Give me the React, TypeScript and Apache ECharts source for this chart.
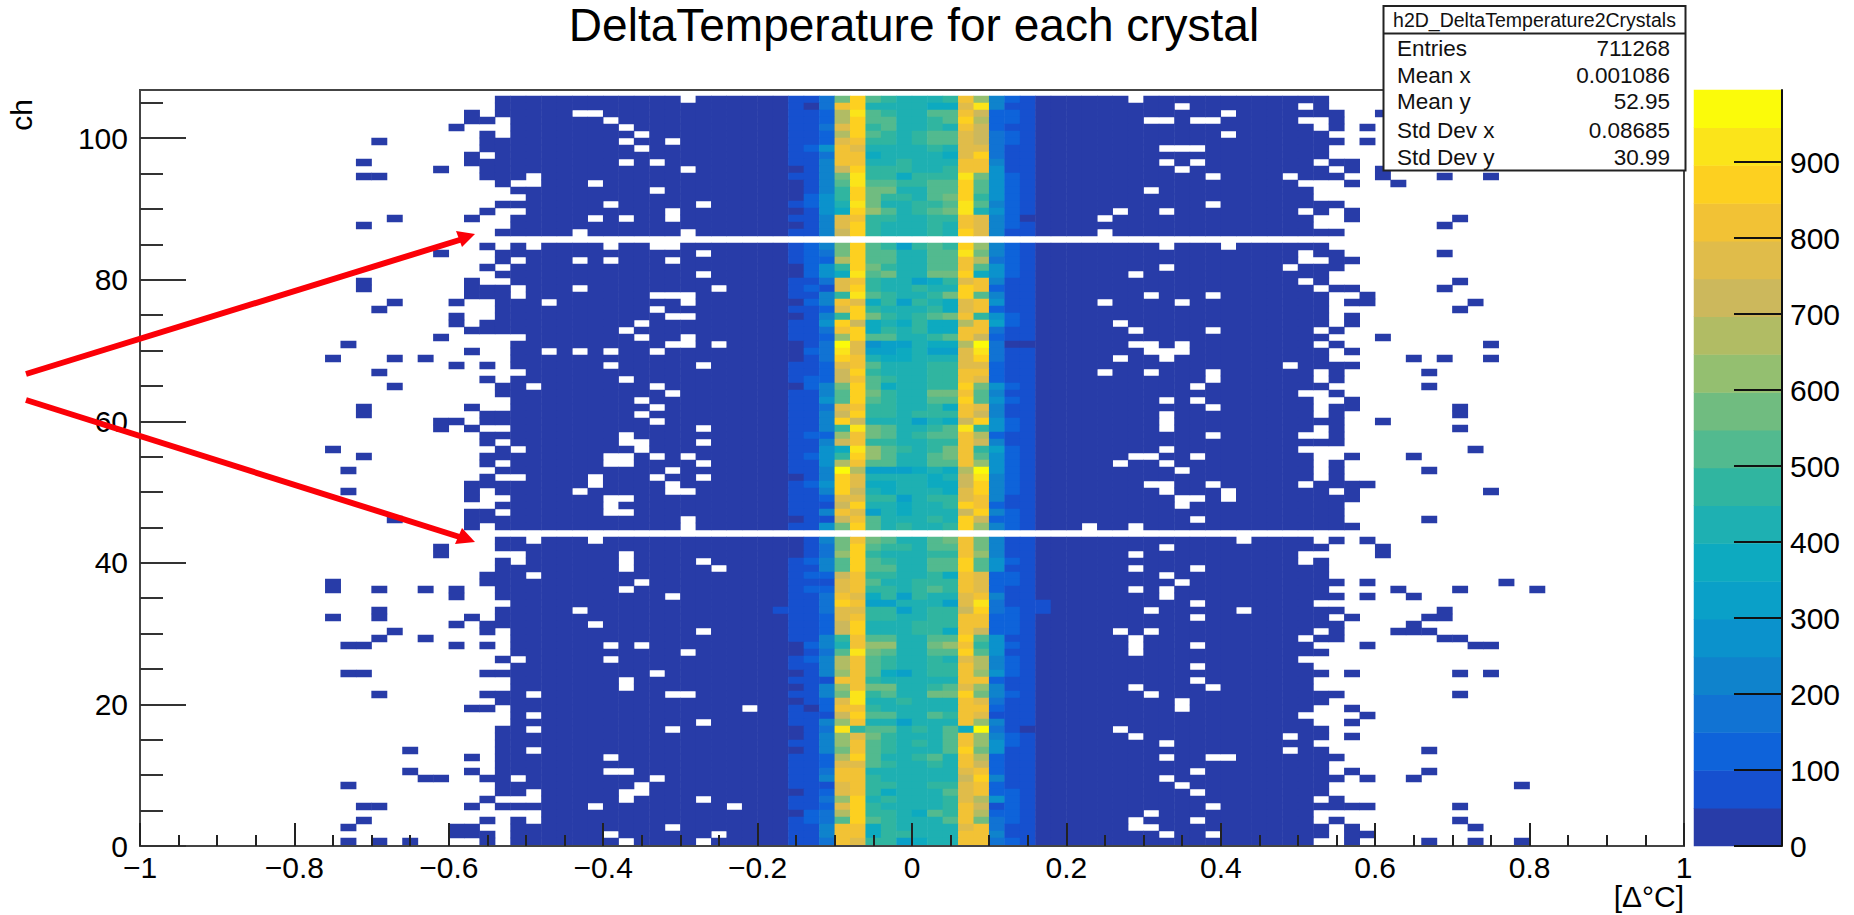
import React, { useEffect, useRef } from "react";
import * as echarts from "echarts";

const FONT = "Liberation Sans";
const LEVEL_WIDTH = 49.75;
const BIN_COUNT = 100;
const ROW_COUNT = 108;
const TOP_CHANNEL = 106;

// Colour of each of the 20 contour levels, bottom to top
const palette = [
  "#283ca8", "#1650cf", "#0e63da", "#1173d3", "#0f83cc", "#0b92cc", "#0aa0c8", "#0daac0", "#1eb0b2", "#30b5a0",
  "#52ba8f", "#70bc80", "#94bf70", "#b1bc64", "#ccb85c", "#e0bc4a", "#f2c235", "#fdd020", "#fbe41a", "#fbfb0a",
];

const xMajorTicks = [-1, -0.8, -0.6, -0.4, -0.2, 0, 0.2, 0.4, 0.6, 0.8, 1];
const yMajorTicks = [0, 20, 40, 60, 80, 100];
const zMajorTicks = [0, 100, 200, 300, 400, 500, 600, 700, 800, 900];

// All arrays below run from the top row (channel 106) to the bottom row (channel 0). Bins: 0 = [-1,-0.98)
const bodyStart = [
  23, 23, 23, 24, 24, 24, 22, 22, 23, 21, 22, 22, 23, 24, 25, 23, 25, 24, 24, 23, -1,
  24, 23, 23, 24, 23, 24, 21, 21, 23, 23, 23, 22, 21, 25, 24, 24, 24, 24, 25, 24, 23,
  23, 24, 24, 22, 22, 24, 22, 24, 25, 22, 24, 23, 25, 21, 23, 24, 23, 24, 21, 23, -1,
  23, 23, 25, 23, 23, 22, 22, 23, 23, 24, 23, 23, 22, 24, 24, 24, 24, 23, 24, 22, 24,
  24, 22, 23, 24, 24, 24, 23, 23, 23, 23, 23, 23, 23, 22, 23, 23, 26, 23, 26, 26, 24, 24, 24,
];
const bodyEnd = [
  76, 76, 77, 77, 77, 76, 77, 76, 76, 78, 76, 77, 74, 75, 75, 77, 76, 75, 75, 77, -1,
  76, 77, 78, 77, 76, 76, 78, 76, 76, 76, 76, 76, 77, 76, 77, 76, 76, 78, 77, 77, 76,
  77, 78, 78, 77, 77, 77, 77, 77, 74, 75, 75, 75, 75, 79, 78, 78, 77, 77, 77, 78, -1,
  75, 76, 74, 76, 76, 76, 77, 76, 77, 75, 77, 76, 77, 77, 77, 75, 76, 74, 75, 76, 75,
  75, 77, 76, 75, 74, 75, 76, 76, 75, 76, 77, 76, 76, 77, 76, 76, 77, 79, 75, 75, 76, 76, 75,
];
// row from top -> empty bins inside the body
const holes: Record<number, number[]> = {
  0: [35, 64], 1: [67, 75], 2: [28, 29, 70], 3: [30, 65, 66, 68, 69, 75, 76], 4: [31, 76], 5: [32, 70], 6: [31, 34],
  7: [32, 66, 67, 68], 9: [31, 33, 66, 68, 76], 10: [35, 67], 11: [25, 69, 74], 12: [24, 25, 29], 13: [33, 65],
  15: [30, 36, 69], 16: [34, 63, 66, 75], 17: [29, 31, 34, 62], 19: [28, 35, 62], 21: [25, 30, 33, 34, 66, 70],
  22: [36, 75], 23: [24, 28, 30, 34, 75, 76], 24: [66, 74], 25: [36, 64], 26: [75], 27: [24, 28, 37, 76],
  28: [24, 33, 34, 35, 65, 69], 29: [26, 35, 62, 67], 30: [33], 31: [34, 35], 32: [32, 63], 33: [31, 64, 69, 76],
  34: [32, 35], 35: [34, 35, 37, 64, 65, 67, 76], 36: [26, 28, 30, 33, 65, 66, 67], 37: [63, 66], 38: [30, 36, 74],
  39: [62, 65, 69, 76], 40: [31, 69, 76], 41: [25, 33, 68], 42: [34, 75, 76], 43: [32, 66, 68, 76, 77], 44: [33, 69, 76],
  45: [32, 66, 76], 46: [33, 66], 47: [36, 66, 76], 48: [31, 69, 75, 76], 49: [31, 32, 36], 50: [24, 32, 66],
  51: [30, 31, 33, 35, 64, 65, 68], 52: [30, 31, 36, 63, 66], 53: [34, 67], 54: [29, 33, 36],
  55: [29, 34, 65, 66, 69, 75], 56: [28, 34, 35, 66, 70, 77], 57: [30, 31, 67, 68, 70], 58: [30, 67], 59: [30, 31],
  60: [35, 68], 61: [35, 61, 64], 63: [25, 29, 71], 64: [66], 65: [31, 64], 66: [24, 31, 36, 75], 67: [31, 37, 64, 68],
  68: [25, 66], 69: [32, 67], 70: [31, 64, 66], 71: [34, 66], 72: [68], 73: [28, 65, 71], 74: [68], 75: [29],
  76: [36, 63, 65, 76], 77: [64, 75], 78: [30, 32, 64, 68], 79: [35, 64], 80: [24, 30], 81: [68], 82: [33], 83: [31, 68],
  84: [31, 64, 69], 85: [25, 34, 35, 65], 86: [67], 87: [39, 67], 88: [25], 89: [36], 90: [25, 34, 63], 91: [64, 74],
  92: [66], 93: [25, 74], 94: [30, 66, 69, 70], 96: [30, 31, 68], 97: [24, 33, 66], 98: [32, 67], 99: [25, 31, 32, 68],
  100: [31, 36, 76], 101: [29, 38, 69], 102: [65], 103: [25, 64, 68], 104: [34, 64, 65], 105: [30, 37, 66, 69], 106: [31, 36],
};
// row from top -> isolated filled bins outside the body
const extras: Record<number, number[]> = {
  2: [21, 80], 3: [21, 22], 4: [20, 79], 5: [22], 6: [15, 79], 8: [21], 9: [14], 10: [19, 78, 80], 11: [14, 15, 80, 84, 87],
  12: [78, 81], 16: [22, 78], 17: [16, 21, 78, 85], 18: [14, 84], 21: [22], 22: [19, 84], 24: [22], 26: [14, 21, 85],
  27: [14, 84], 28: [79], 29: [16, 20, 78, 79, 86], 30: [15, 85], 31: [20, 78], 32: [20, 78], 34: [19, 80], 35: [13, 87],
  36: [21, 78], 37: [12, 16, 18, 82, 84, 87], 38: [20, 22], 39: [15, 83], 40: [22], 41: [16, 83], 44: [14, 21, 85], 45: [14, 85],
  46: [19, 20, 80], 47: [19, 21, 85], 49: [22], 50: [12, 23, 86], 51: [14, 78, 82], 52: [22, 77], 53: [13, 77, 83], 54: [22, 77],
  56: [13, 21, 87], 57: [21], 59: [21, 22], 60: [16, 83], 61: [21], 63: [77, 79], 64: [19, 80], 65: [19, 80],
  69: [12, 79, 88], 70: [12, 15, 18, 20, 81, 85, 90], 71: [20, 79, 82], 73: [15, 84], 74: [12, 15, 21, 78, 83, 84], 75: [20, 82],
  76: [16, 22, 81, 82, 83], 77: [15, 18, 84, 85], 78: [13, 14, 20, 22, 79, 86, 87], 82: [13, 14, 78, 85, 87], 85: [15, 85],
  87: [21, 22, 78], 88: [79], 89: [78], 91: [78], 93: [17, 83], 94: [21], 96: [17, 21, 78, 83], 97: [18, 19, 79, 82],
  98: [13, 89], 100: [22], 101: [14, 15, 21, 85], 103: [14, 22, 24, 77, 85], 104: [13, 20, 21, 78, 86],
  105: [20, 21, 22, 78, 79], 106: [13, 15, 17, 22, 78, 83, 86, 89],
};
// bins 42 to 57 of each row, as contour level characters (base 20)
const coreLevels = [
  "113bha98889gc421", "103gh888877fi411", "112dia988aage221", "112dhaa889ahd221", "113fh9a8898ge211", "112dha989aafe321",
  "112fg9989aafe321", "125gf888898ff311", "113gg788887fh311", "114gg889888gg411", "014eh999889gg511", "114bi997999ib521",
  "014aiaa99aaha521", "0149hbb88aaha521", "0259hb998abh9521", "1258ib8899aia421", "0157hca89abi8521", "114fg998899gf420",
  "014fh988898gf421", "114eh988898hf411", "", "124bha969a9hc421", "123bhaa88aaib421", "122dhaa88aagd321",
  "0259hb988aaga521", "0257iab88bbh7521", "113fg988679fg411", "121fh988988hg211", "1149ia9889bha411", "024gf796987fg511",
  "112fh988897fg211", "0149hb989abg9521", "115he787977dg621", "113gh798977gg311", "112chaa889age211", "013jf566877dj300",
  "023if667866fi311", "013hg877888fh311", "112fga88899ff211", "112eh988899gg211", "122ega98899gf211", "024bha78899hb521",
  "114ahb988bbga411", "115aha988aaha521", "113fg998897gf411", "114eh998999ge411", "114he888687eh521", "1149iba889ai9521",
  "122cgba89aagd211", "114eg998899ge411", "1157ica989bg9621", "1259hca88abga521", "115dgaa88aagc521", "114jd666787dj521",
  "014hf888878ei421", "125hf778877eh421", "114he878887fh421", "112ff996899fg411", "111eh887889hg211", "114gf687888eh421",
  "011ega88898he221", "115bha89889hc421", "", "014bgba88abgb411", "013bha998aagb411", "013ch988899gc411",
  "124aha988aaha521", "114ahaa88aaha511", "122eg998897gf221", "111fga88999gf221", "122fg9989a9gf211", "113gf796988fg411",
  "113hg668886fi311", "113ff996899eh321", "112fg998899gg221", "112eh888999gg221", "112eh888997ge221", "1149gaa88aaha511",
  "0248gcc88bcg9521", "013aiba88aaha511", "124dga98898fd421", "114dga98899gd421", "014cga76899gc521", "111gg988888gg211",
  "014cgbb889afc411", "114bi9a88bbhb421", "012fi889888gf311", "102gg988888gg211", "111ehaa88a9gf111", "114cg886888gc411",
  "013i9aa898a7j310", "014cfb9888agc421", "114cga9898agc521", "014bga9888ahb511", "112dha889a8gd211", "112ffa98898ge211",
  "113gg888888fg211", "114gg988888eh411", "111fg998899fg211", "012fg97888afg221", "113ch898889fd521", "112fh988889ge121",
  "023dh9987a9gd221", "123aha9888agb321", "114gg798888fg311", "114gg799888gg411", "113gf996788gg321",
];
const CORE_FIRST_BIN = 42;
// [row from top, bin, level] of the few brighter cells just outside the core
const coreEdgeCells = [[72, 58, 1], [73, 58, 1], [73, 41, 1]];

const statLabels = ["Entries", "Mean x", "Mean y", "Std Dev x", "Std Dev y"];
const statValues = ["711268", "0.001086", "52.95", "0.08685", "30.99"];

const levelValue = (level: number) => (level + 0.5) * LEVEL_WIDTH;

function buildCells(): number[][] {
  const cells: number[][] = [];
  for (let r = 0; r <= TOP_CHANNEL; r++) {
    const levels = new Map<number, number>();
    if (bodyStart[r] >= 0) {
      const gap = new Set(holes[r] || []);
      for (let n = bodyStart[r]; n <= bodyEnd[r]; n++) if (!gap.has(n)) levels.set(n, 0);
    }
    (extras[r] || []).forEach((n) => levels.set(n, 0));
    coreLevels[r].split("").forEach((c, i) => levels.set(CORE_FIRST_BIN + i, parseInt(c, 20)));
    coreEdgeCells.forEach(([row, bin, level]) => {
      if (row === r) levels.set(bin, level);
    });
    levels.forEach((level, n) => cells.push([n, TOP_CHANNEL - r, levelValue(level)]));
  }
  return cells;
}

const minusLabel = (v: number) => String(+Number(v).toFixed(1)).replace("-", "\u2212");
const statRowY = [48, 75.5, 101, 130.5, 157];

export default function App() {
  const ref = useRef<HTMLDivElement>(null);
  useEffect(() => {
    document.body.style.margin = "0";
    const chart = echarts.init(ref.current!, undefined, { renderer: "svg" });
    const axisText = { fontFamily: FONT, fontSize: 30, color: "#000", lineHeight: 20 };
    const statsText: any[] = [];
    statLabels.forEach((label, i) => {
      statsText.push({
        type: "text", z: 102, x: 1397, y: statRowY[i],
        style: { text: label, font: `22.5px "${FONT}"`, fill: "#111", textAlign: "left", textVerticalAlign: "middle" },
      });
      statsText.push({
        type: "text", z: 102, x: 1670, y: statRowY[i],
        style: { text: statValues[i], font: `22.5px "${FONT}"`, fill: "#111", textAlign: "right", textVerticalAlign: "middle" },
      });
    });
    const arrow = (x1: number, y1: number, x2: number, y2: number, head: number[][]) => [
      { type: "line", z: 50, shape: { x1, y1, x2, y2 }, style: { stroke: "#fb0007", lineWidth: 6 } },
      { type: "polygon", z: 51, shape: { points: head }, style: { fill: "#fb0007" } },
    ];
    chart.setOption({
      animation: false,
      backgroundColor: "#fff",
      title: {
        text: "DeltaTemperature for each crystal",
        left: 909, top: -3, textAlign: "center",
        textStyle: { fontFamily: FONT, fontSize: 46, fontWeight: "normal", color: "#000" },
      },
      grid: [
        { left: 140, top: 89, width: 1544, height: 756 },
        { left: 140, top: 90, width: 1544, height: 756, show: true, borderColor: "#444", borderWidth: 2, backgroundColor: "transparent" },
        { left: 1694, top: 90, width: 88, height: 756 },
      ],
      xAxis: [
        { type: "category", gridIndex: 0, show: false, data: Array.from({ length: BIN_COUNT }, (_, i) => i) },
        {
          type: "value", gridIndex: 1, min: -1, max: 1, interval: 0.2, z: 5,
          axisLine: { onZero: false, lineStyle: { color: "#444", width: 2 } },
          axisTick: { inside: true, length: 23, lineStyle: { color: "#222", width: 2 }, customValues: xMajorTicks },
          minorTick: { show: true, splitNumber: 4, length: 11, lineStyle: { color: "#222", width: 2 } },
          splitLine: { show: false },
          axisLabel: { ...axisText, margin: 11, customValues: xMajorTicks, formatter: minusLabel, hideOverlap: false },
        },
        { type: "category", gridIndex: 2, show: false, data: ["z"] },
      ],
      yAxis: [
        { type: "category", gridIndex: 0, show: false, data: Array.from({ length: ROW_COUNT }, (_, i) => i) },
        {
          type: "value", gridIndex: 1, min: 0, max: 106.8, interval: 20, z: 5,
          axisLine: { onZero: false, lineStyle: { color: "#444", width: 2 } },
          axisTick: { inside: true, length: 46, lineStyle: { color: "#333", width: 2 }, customValues: yMajorTicks },
          minorTick: { show: true, splitNumber: 4, length: 23, lineStyle: { color: "#333", width: 2 } },
          splitLine: { show: false },
          axisLabel: { ...axisText, margin: 12, customValues: yMajorTicks },
        },
        { type: "category", gridIndex: 2, show: false, data: palette.map((_, i) => i) },
        {
          type: "value", gridIndex: 2, position: "right", min: 0, max: 995, interval: 100, z: 5,
          axisLine: { show: true, onZero: false, lineStyle: { color: "#111", width: 2 } },
          axisTick: { show: true, inside: true, length: 48, lineStyle: { color: "#111", width: 2 }, customValues: zMajorTicks },
          splitLine: { show: false },
          axisLabel: { ...axisText, margin: 8, customValues: zMajorTicks },
        },
      ],
      visualMap: {
        type: "piecewise", show: false, dimension: 2,
        pieces: palette.map((color, i) => ({ min: i * LEVEL_WIDTH, max: (i + 1) * LEVEL_WIDTH, color })),
      },
      series: [
        {
          type: "heatmap", xAxisIndex: 0, yAxisIndex: 0, data: buildCells(), silent: true,
          emphasis: { disabled: true }, progressive: 0,
        },
        {
          type: "heatmap", xAxisIndex: 2, yAxisIndex: 2, silent: true, emphasis: { disabled: true },
          data: palette.map((_, i) => [0, i, levelValue(i)]),
        },
      ],
      graphic: [
        ...arrow(26, 374, 466, 238, [[475, 234], [456, 231], [462, 247]]),
        ...arrow(26, 400, 466, 539, [[475, 542], [462, 528], [455, 544]]),
        {
          type: "rect", z: 100, shape: { x: 1383.5, y: 6, width: 302, height: 164.5 },
          style: { fill: "#fff", stroke: "#222", lineWidth: 2 },
        },
        { type: "line", z: 101, shape: { x1: 1383.5, y1: 33.5, x2: 1685.5, y2: 33.5 }, style: { stroke: "#222", lineWidth: 2 } },
        {
          type: "text", z: 102, x: 1534.5, y: 19.5,
          style: { text: "h2D_DeltaTemperature2Crystals", font: `19.5px "${FONT}"`, fill: "#111", textAlign: "center", textVerticalAlign: "middle" },
        },
        ...statsText,
        {
          type: "text", z: 10, x: 21, y: 115, rotation: Math.PI / 2,
          style: { text: "ch", font: `30px "${FONT}"`, fill: "#000", textAlign: "center", textVerticalAlign: "middle" },
        },
        {
          type: "text", z: 10, x: 1684, y: 896,
          style: { text: "[\u0394\u00b0C]", font: `30px "${FONT}"`, fill: "#000", textAlign: "right", textVerticalAlign: "middle" },
        },
      ],
    });
    return () => chart.dispose();
  }, []);
  return <div ref={ref} style={{ width: 1854, height: 915 }} />;
}
